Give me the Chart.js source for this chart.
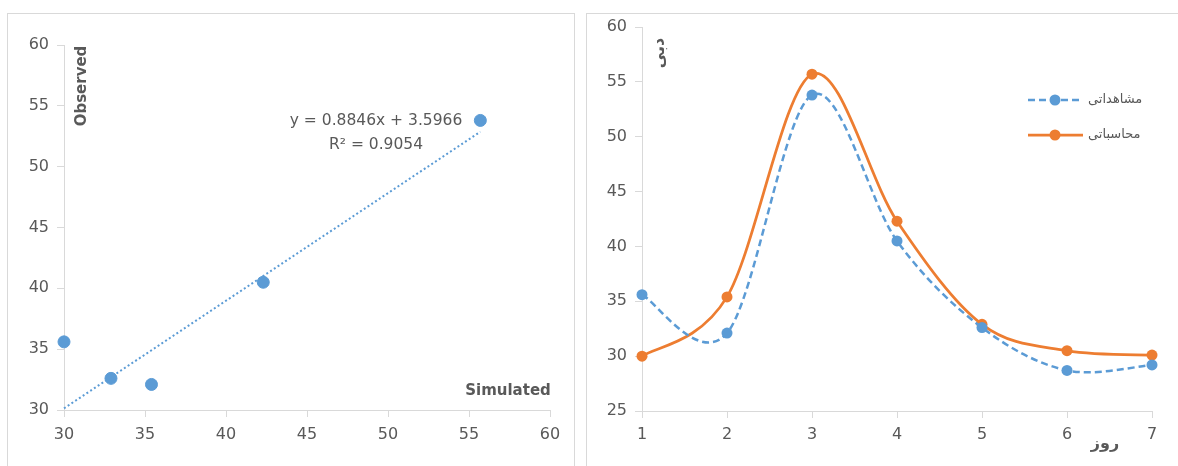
<!DOCTYPE html>
<html>
<head>
<meta charset="utf-8">
<script src="https://cdn.jsdelivr.net/npm/chart.js@4.4.1/dist/chart.umd.min.js"></script>
<style>
  html, body { margin: 0; padding: 0; background: #fff; width: 1178px; height: 466px; overflow: hidden; position: relative; }
  .frame { position: absolute; box-sizing: border-box; border: 1px solid #d9d9d9; border-bottom: none; }
  canvas { position: absolute; }
</style>
</head>
<body>
<div class="frame" style="left:7px; top:13px; width:568px; height:470px;"></div>
<div class="frame" style="left:586px; top:13px; width:620px; height:470px;"></div>
<canvas id="left" width="566" height="452" style="left:8px; top:14px;"></canvas>
<canvas id="right" width="591" height="462" style="left:587px; top:4px;"></canvas>
<script>
// ---- data ----
const days = ['1', '2', '3', '4', '5', '6', '7'];
const observed = [35.6, 32.1, 53.8, 40.5, 32.6, 28.7, 29.2];   // مشاهداتی
const simulated = [30.0, 35.4, 55.7, 42.3, 32.9, 30.5, 30.1];  // محاسباتی
const seriesNames = ['مشاهداتی', 'محاسباتی'];
const trendSlope = 0.8846;
const trendIntercept = 3.5966;
const trendR2 = 0.9054;
const scatterXTitle = 'Simulated';
const scatterYTitle = 'Observed';
const lineXTitle = 'روز';
const lineYTitle = 'دبی';

const BLUE = '#5b9bd5';
const ORANGE = '#ed7d31';
const TXT = '#595959';
const AX = '#d9d9d9';
const NUMFONT = '"DejaVu Sans", sans-serif';
const FAFONT = '"DejaVu Sans", sans-serif';

const scatterPts = simulated.map((x, i) => ({ x: x, y: observed[i] }));
const tMin = Math.min(...simulated), tMax = Math.max(...simulated);
const trendPts = [tMin, tMax].map(x => ({ x: x, y: trendSlope * x + trendIntercept }));

function fixW(w) { return s => { s.width = w; }; }
function fixH(h) { return s => { s.height = h; }; }

// ---- left: scatter with trendline ----
const leftNotes = {
  id: 'leftNotes',
  afterDatasetsDraw(chart) {
    const c = chart.ctx;
    c.save();
    c.fillStyle = TXT;
    c.font = '15.5px ' + NUMFONT;
    c.textAlign = 'center';
    c.textBaseline = 'middle';
    c.fillText('y = ' + trendSlope + 'x + ' + trendIntercept, 368, 107);
    c.fillText('R² = ' + trendR2, 368, 131);
    c.font = 'bold 15px ' + NUMFONT;
    c.fillText(scatterXTitle, 500, 377);
    c.translate(74, 72);
    c.rotate(-Math.PI / 2);
    c.fillText(scatterYTitle, 0, 0);
    c.restore();
  }
};

new Chart(document.getElementById('left'), {
  type: 'scatter',
  data: {
    datasets: [
      { label: 'data', data: scatterPts, backgroundColor: BLUE, borderColor: BLUE,
        pointRadius: 6, pointHoverRadius: 6, order: 1,
        clip: { left: 10, top: 10, right: 10, bottom: 0 } },
      { label: 'trend', data: trendPts, showLine: true, pointRadius: 0, borderColor: BLUE,
        borderWidth: 2, borderDash: [2, 2.5], fill: false, order: 2, clip: false }
    ]
  },
  options: {
    responsive: false, animation: false,
    layout: { padding: { top: 31, right: 24, left: 0, bottom: 0 } },
    plugins: { legend: { display: false }, tooltip: { enabled: false } },
    scales: {
      x: { type: 'linear', min: 30, max: 60,
        ticks: { stepSize: 5, color: TXT, font: { family: NUMFONT, size: 16 }, padding: 8 },
        grid: { drawOnChartArea: false, drawTicks: true, tickLength: 7, color: AX },
        border: { color: AX }, afterFit: fixH(56) },
      y: { type: 'linear', min: 30, max: 60,
        ticks: { stepSize: 5, color: TXT, font: { family: NUMFONT, size: 16 }, padding: 8 },
        grid: { drawOnChartArea: false, drawTicks: true, tickLength: 7, color: AX },
        border: { color: AX }, afterFit: fixW(56) }
    }
  },
  plugins: [leftNotes]
});

// ---- right: smoothed lines (spreadsheet-style Catmull-Rom smoothing) ----
const smoothing = {
  id: 'smoothing',
  beforeDatasetsDraw(chart) {
    chart.getSortedVisibleDatasetMetas().forEach(meta => {
      const line = meta.dataset;
      if (!line) return;
      line.updateControlPoints(chart.chartArea);
      const pts = meta.data, n = pts.length;
      for (let i = 0; i < n; i++) {
        const p = pts[i], a = pts[Math.max(i - 1, 0)], b = pts[Math.min(i + 1, n - 1)];
        const tx = (b.x - a.x) / 6, ty = (b.y - a.y) / 6;
        p.cp1x = p.x - tx; p.cp1y = p.y - ty;
        p.cp2x = p.x + tx; p.cp2y = p.y + ty;
      }
    });
  }
};

const rightNotes = {
  id: 'rightNotes',
  afterDatasetsDraw(chart) {
    const c = chart.ctx;
    c.save();
    const rows = [96, 131];
    chart.data.datasets.forEach((ds, i) => {
      const y = rows[i];
      c.strokeStyle = ds.borderColor;
      c.lineWidth = ds.borderWidth;
      c.setLineDash(ds.borderDash || []);
      c.beginPath(); c.moveTo(441, y); c.lineTo(496, y); c.stroke();
      c.setLineDash([]);
      c.fillStyle = ds.backgroundColor;
      c.beginPath(); c.arc(468, y, ds.pointRadius, 0, Math.PI * 2); c.fill();
      c.fillStyle = TXT;
      c.font = '13px ' + FAFONT;
      c.textAlign = 'left';
      c.textBaseline = 'middle';
      c.fillText(ds.label, 501, y);
    });
    c.fillStyle = TXT;
    c.font = 'bold 16px ' + FAFONT;
    c.textAlign = 'center';
    c.textBaseline = 'middle';
    c.fillText(lineXTitle, 518, 440);
    c.translate(73, 49);
    c.rotate(-Math.PI / 2);
    c.fillText(lineYTitle, 0, 0);
    c.restore();
  }
};

new Chart(document.getElementById('right'), {
  type: 'line',
  data: {
    labels: days,
    datasets: [
      { label: seriesNames[0], data: observed, borderColor: BLUE, backgroundColor: BLUE,
        borderWidth: 2.5, borderDash: [7, 4], pointRadius: 5.5, pointBorderWidth: 0,
        tension: 0.4, fill: false, clip: false },
      { label: seriesNames[1], data: simulated, borderColor: ORANGE, backgroundColor: ORANGE,
        borderWidth: 2.75, pointRadius: 5.5, pointBorderWidth: 0,
        tension: 0.4, fill: false, clip: false }
    ]
  },
  options: {
    responsive: false, animation: false,
    layout: { padding: { top: 23, right: 26, left: 0, bottom: 0 } },
    plugins: { legend: { display: false }, tooltip: { enabled: false } },
    scales: {
      x: { type: 'category', offset: false,
        ticks: { color: TXT, font: { family: NUMFONT, size: 16 }, padding: 7 },
        grid: { offset: false, drawOnChartArea: false, drawTicks: true, tickLength: 7, color: AX },
        border: { color: AX }, afterFit: fixH(55) },
      y: { min: 25, max: 60,
        ticks: { stepSize: 5, color: TXT, font: { family: NUMFONT, size: 16 }, padding: 8 },
        grid: { drawOnChartArea: false, drawTicks: true, tickLength: 7, color: AX },
        border: { color: AX }, afterFit: fixW(55) }
    }
  },
  plugins: [smoothing, rightNotes]
});
</script>
</body>
</html>
